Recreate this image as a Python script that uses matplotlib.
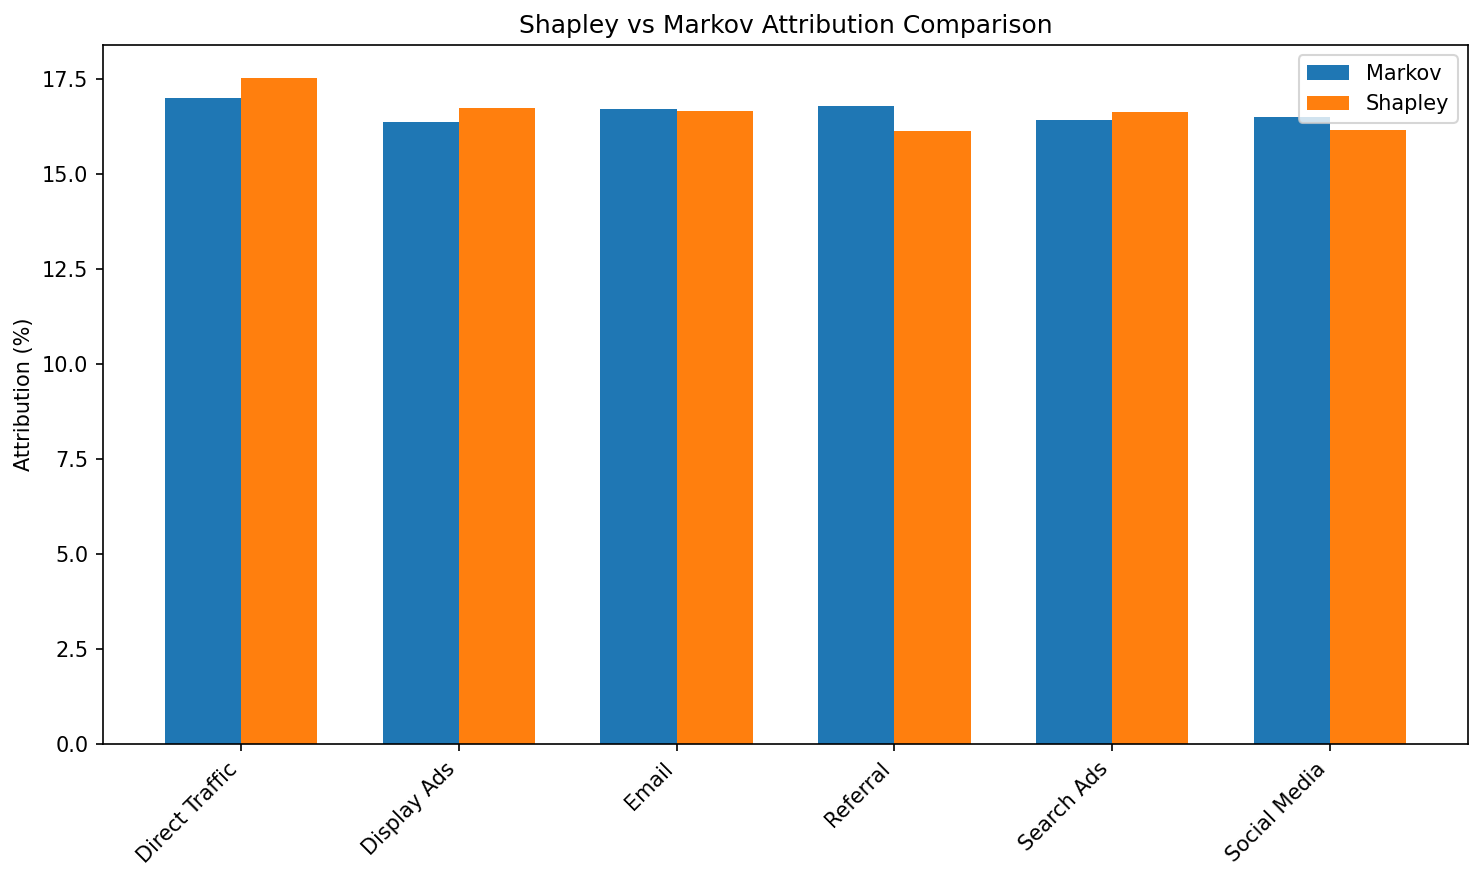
import numpy as np
import matplotlib
matplotlib.use("Agg")
import matplotlib.pyplot as plt

# Attribution (%) per channel
channels = ['Direct Traffic', 'Display Ads', 'Email', 'Referral', 'Search Ads', 'Social Media']
markov = [17.02, 16.39, 16.73, 16.81, 16.44, 16.52]
shapley = [17.53, 16.76, 16.68, 16.13, 16.63, 16.18]

x = np.arange(len(channels))
width = 0.35

fig, ax = plt.subplots(figsize=(1484 / 150, 882 / 150), dpi=150)
ax.bar(x - width / 2, markov, width, label='Markov')
ax.bar(x + width / 2, shapley, width, label='Shapley')

ax.set_xticks(x)
ax.set_xticklabels(channels, rotation=45, ha='right')
ax.set_ylabel('Attribution (%)')
ax.set_title('Shapley vs Markov Attribution Comparison')
ax.legend()

fig.subplots_adjust(left=103 / 1484, right=1468 / 1484, top=1 - 45 / 882, bottom=1 - 744 / 882)
plt.savefig("out.png", dpi=150)
